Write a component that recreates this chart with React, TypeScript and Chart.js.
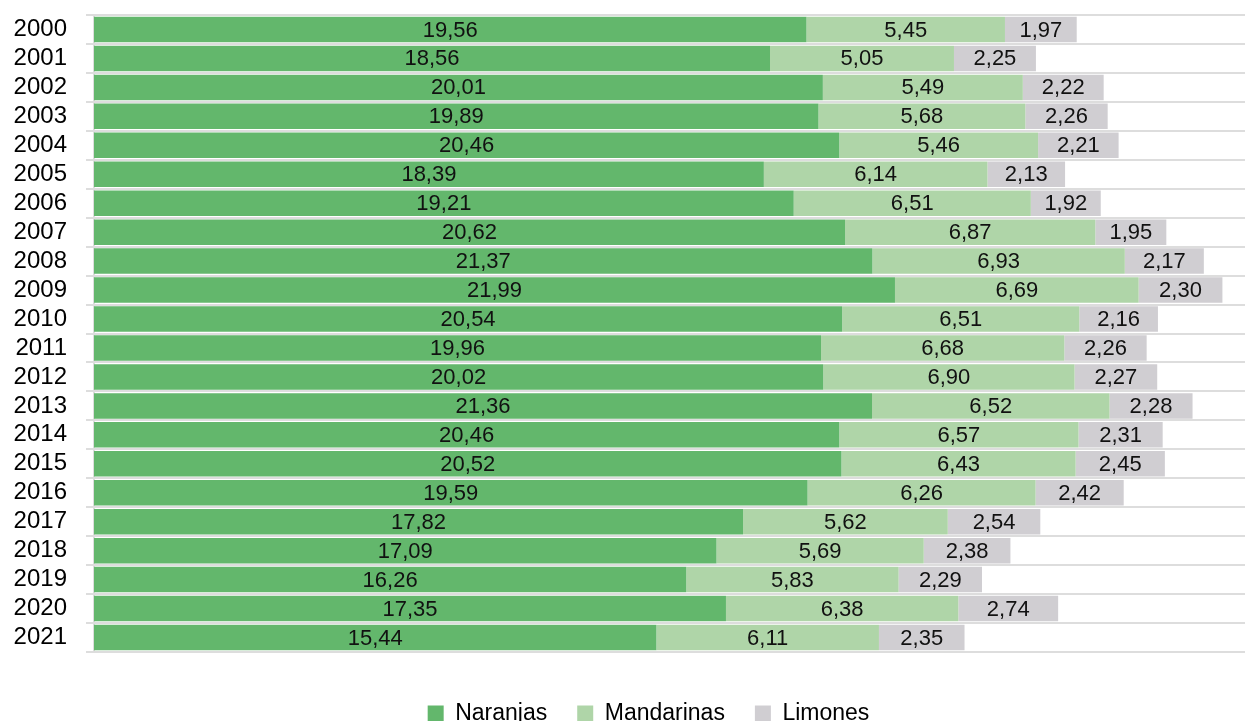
import React, { useEffect, useRef } from "react";
import { Chart, registerables } from "chart.js";

Chart.register(...registerables);

const years = ["2000","2001","2002","2003","2004","2005","2006","2007","2008","2009","2010","2011","2012","2013","2014","2015","2016","2017","2018","2019","2020","2021"];
const naranjas = [19.56,18.56,20.01,19.89,20.46,18.39,19.21,20.62,21.37,21.99,20.54,19.96,20.02,21.36,20.46,20.52,19.59,17.82,17.09,16.26,17.35,15.44];
const mandarinas = [5.45,5.05,5.49,5.68,5.46,6.14,6.51,6.87,6.93,6.69,6.51,6.68,6.90,6.52,6.57,6.43,6.26,5.62,5.69,5.83,6.38,6.11];
const limones = [1.97,2.25,2.22,2.26,2.21,2.13,1.92,1.95,2.17,2.30,2.16,2.26,2.27,2.28,2.31,2.45,2.42,2.54,2.38,2.29,2.74,2.35];
const seriesNames = ["Naranjas", "Mandarinas", "Limones"];
const seriesColors = ["#63b76c", "#afd5a8", "#d0ced2"];

const FONT = "'Liberation Sans', Arial, sans-serif";

const valueLabels = {
  id: "valueLabels",
  afterDatasetsDraw(chart: any) {
    const ctx = chart.ctx;
    ctx.save();
    ctx.font = `22px ${FONT}`;
    ctx.fillStyle = "#111";
    ctx.textAlign = "center";
    ctx.textBaseline = "middle";
    chart.data.datasets.forEach((ds: any, i: number) => {
      const meta = chart.getDatasetMeta(i);
      meta.data.forEach((el: any, j: number) => {
        const v = ds.data[j];
        const x = (el.x + el.base) / 2;
        ctx.fillText(v.toFixed(2).replace(".", ","), x, el.y + 1);
      });
    });
    ctx.restore();
  },
};

export default function App() {
  const ref = useRef<HTMLCanvasElement>(null);
  useEffect(() => {
    const data = [naranjas, mandarinas, limones];
    const chart = new Chart(ref.current!, {
      type: "bar",
      data: {
        labels: years,
        datasets: data.map((d, i) => ({
          label: seriesNames[i],
          data: d,
          backgroundColor: seriesColors[i],
          borderWidth: 0,
          barPercentage: 0.88,
          categoryPercentage: 1,
        })),
      },
      options: {
        indexAxis: "y",
        responsive: false,
        animation: false,
        maintainAspectRatio: false,
        layout: { padding: { top: 15, left: 0, right: -52, bottom: -14 } },
        scales: {
          x: {
            stacked: true,
            min: 0,
            max: 31.6,
            display: true,
            grid: { display: false },
            border: { display: false },
            ticks: { display: false },
            afterFit: (scale: any) => { scale.height = 20; },
          },
          y: {
            stacked: true,
            grid: { color: "#dddddd", lineWidth: 2, tickLength: 8, offset: true },
            border: { color: "#dddddd", width: 2 },
            ticks: { color: "#000", font: { family: FONT, size: 24 }, padding: 19, autoSkip: false },
            afterFit: (scale: any) => {
              scale.width = 94;
              scale.paddingTop = 0;
              scale.paddingBottom = 0;
            },
          },
        },
        plugins: {
          legend: {
            position: "bottom",
            labels: {
              color: "#000",
              font: { family: FONT, size: 23 },
              boxWidth: 16,
              boxHeight: 16,
              padding: 30,
            },
          },
          tooltip: { enabled: false },
        },
      },
      plugins: [valueLabels],
    });
    return () => chart.destroy();
  }, []);
  return (
    <div style={{ position: "fixed", left: 0, top: 0, width: 1245, height: 721 }}>
      <canvas ref={ref} width={1245} height={721} style={{ width: 1245, height: 721 }} />
    </div>
  );
}
